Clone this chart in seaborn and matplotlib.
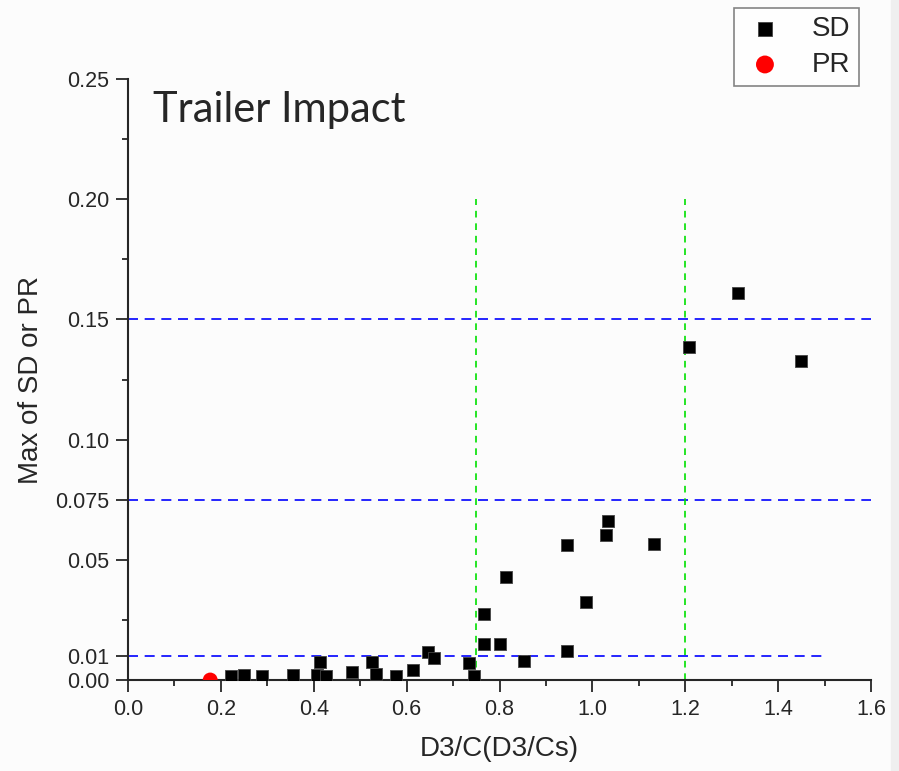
import numpy as np
import pandas as pd
import seaborn as sns
import matplotlib.pyplot as plt
from matplotlib.ticker import MultipleLocator
from matplotlib.patches import Rectangle

# Data
sd_x = [0.221, 0.250, 0.289, 0.356, 0.406, 0.413, 0.426, 0.483, 0.525, 0.534,
        0.577, 0.613, 0.647, 0.659, 0.734, 0.745, 0.767, 0.767, 0.800, 0.815,
        0.853, 0.945, 0.946, 0.986, 1.029, 1.033, 1.133, 1.209, 1.313, 1.450]
sd_y = [0.0017, 0.0022, 0.0017, 0.0022, 0.0020, 0.0074, 0.0017, 0.0035, 0.0075, 0.0025,
        0.0017, 0.0043, 0.0118, 0.0093, 0.0069, 0.0017, 0.0275, 0.0150, 0.0150, 0.0430,
        0.0080, 0.0560, 0.0119, 0.0324, 0.0602, 0.0661, 0.0564, 0.1387, 0.1609, 0.1325]
pr_x = [0.177]
pr_y = [0.0]

# reference lines
blue_levels = [0.15, 0.075, 0.01]
blue_ends = [1.6, 1.6, 1.5]
green_levels = [0.75, 1.2]
green_top = 0.20

yticks = [0.0, 0.01, 0.05, 0.075, 0.10, 0.15, 0.20, 0.25]
ytick_labels = ["0.00", "0.01", "0.05", "0.075", "0.10", "0.15", "0.20", "0.25"]

sd = pd.DataFrame({"x": sd_x, "y": sd_y})
pr = pd.DataFrame({"x": pr_x, "y": pr_y})

sns.set_style("ticks")
plt.rcParams['font.family'] = ['Liberation Sans', 'DejaVu Sans']

bg = "#fcfcfc"
fig = plt.figure(figsize=(8.99, 7.71), dpi=100, facecolor=bg)
fig.patches.append(Rectangle((0.991, 0), 0.009, 1, transform=fig.transFigure,
                             color="#efefef", zorder=0))
ax = fig.add_axes([0.1424, 0.118, 0.8265, 0.7795])
ax.set_facecolor(bg)

for lvl, end in zip(blue_levels, blue_ends):
    ax.plot([0, end], [lvl, lvl], color="#0000ff", lw=1.2, dashes=(6, 4), zorder=1)
for g in green_levels:
    ax.plot([g, g], [0, green_top], color="#00e000", lw=1.2, dashes=(4, 3.5), zorder=1)

sns.scatterplot(data=sd, x="x", y="y", ax=ax, marker="s", color="black",
                s=80, edgecolor="#444444", linewidth=0.6, label="SD", zorder=3)
sns.scatterplot(data=pr, x="x", y="y", ax=ax, marker="o", color="#ff0000",
                s=115, edgecolor="none", linewidth=0, label="PR", zorder=3)

ax.set_xlim(0, 1.6)
ax.set_ylim(0, 0.25)
ax.xaxis.set_major_locator(MultipleLocator(0.2))
ax.xaxis.set_minor_locator(MultipleLocator(0.1))
ax.set_yticks(yticks, ytick_labels)
ax.yaxis.set_minor_locator(MultipleLocator(0.025))
ax.tick_params(which="major", direction="out", length=8.5, width=1.3, labelsize=15.5, pad=5)
ax.tick_params(which="minor", direction="out", length=4.5, width=1.3)
for s in ["left", "bottom"]:
    ax.spines[s].set_linewidth(1.5)
sns.despine(ax=ax)

ax.set_xlabel("D3/C(D3/Cs)", fontsize=20, labelpad=12)
ax.set_ylabel("Max of SD or PR", fontsize=20, labelpad=8)

ax.text(0.034, 0.98, "Trailer Impact", transform=ax.transAxes, fontsize=30,
        family=["Lato", "DejaVu Sans"], va="top", ha="left")

leg = ax.legend(loc="upper right", bbox_to_anchor=(0.9555, 0.99), bbox_transform=fig.transFigure,
                fontsize=20, frameon=True, fancybox=False, edgecolor="#666666",
                handletextpad=0.9, handlelength=1.6, borderpad=0.3, labelspacing=0.35,
                markerscale=1.2, borderaxespad=0)
leg.get_frame().set_linewidth(1.2)
leg.get_frame().set_facecolor("white")

fig.savefig("out.png", dpi=100, facecolor=bg)
